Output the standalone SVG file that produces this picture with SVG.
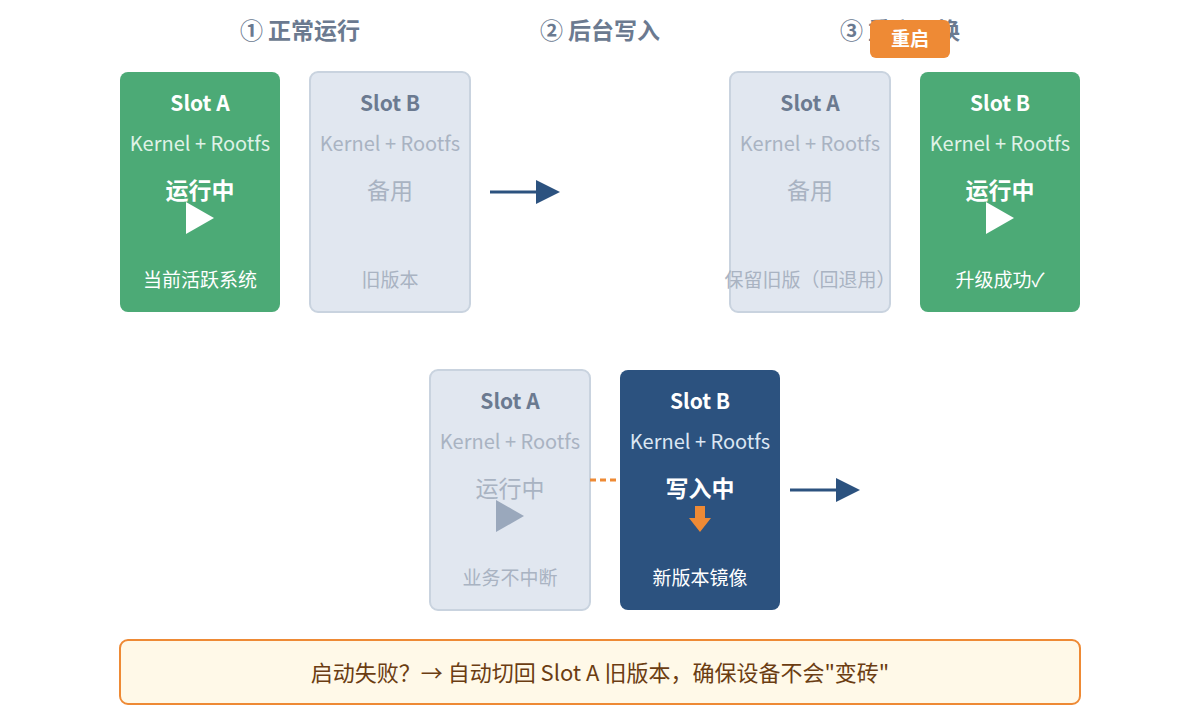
<svg xmlns="http://www.w3.org/2000/svg" width="1200" height="720" viewBox="0 0 1200 720">
<style>
text{font-family:"Noto Sans CJK SC","Noto Sans",sans-serif;text-anchor:middle}
.title{font-size:23px;font-weight:bold;fill:#6b7a90}
.g rect.b{fill:#4caa76}
.s rect.b{fill:#e1e7f0;stroke:#c9d3df;stroke-width:2}
.d rect.b{fill:#2c527f}
.h{font-size:21px;font-weight:bold}
.k{font-size:20px}
.m{font-size:23px}
.f{font-size:19px}
.g .h,.g .m,.g .f,.d .h,.d .m,.d .f{fill:#fff}
.g .k{fill:#dff2e6}
.d .k{fill:#dbe6f3}
.s .h{fill:#6b7a90}
.s .k,.s .m,.s .f{fill:#a9b3c2}
</style>
<text class="title" x="300" y="39">① 正常运行</text>
<text class="title" x="600" y="39">② 后台写入</text>
<text class="title" x="900" y="39">③ 重启切换</text>
<g id="n1" class="g"><rect class="b" x="120" y="72" width="160" height="240" rx="8"/><text class="h" x="200" y="111">Slot A</text><text class="k" x="200" y="151">Kernel + Rootfs</text><text class="m" x="200" y="199" font-weight="bold">运行中</text><polygon points="186,202 186,234 214,218" fill="#fff"/><text class="f" x="200" y="287">当前活跃系统</text></g>
<g id="n2" class="s"><rect class="b" x="310" y="72" width="160" height="240" rx="8"/><text class="h" x="390" y="111">Slot B</text><text class="k" x="390" y="151">Kernel + Rootfs</text><text class="m" x="390" y="199">备用</text><text class="f" x="390" y="287">旧版本</text></g>
<g id="n3" class="s"><rect class="b" x="730" y="72" width="160" height="240" rx="8"/><text class="h" x="810" y="111">Slot A</text><text class="k" x="810" y="151">Kernel + Rootfs</text><text class="m" x="810" y="199">备用</text><text class="f" x="810" y="287">保留旧版（回退用）</text></g>
<g id="n4" class="g"><rect class="b" x="920" y="72" width="160" height="240" rx="8"/><text class="h" x="1000" y="111">Slot B</text><text class="k" x="1000" y="151">Kernel + Rootfs</text><text class="m" x="1000" y="199" font-weight="bold">运行中</text><polygon points="986,202 986,234 1014,218" fill="#fff"/><text class="f" x="1000" y="287">升级成功✓</text></g>
<g id="n5" class="s"><rect class="b" x="430" y="370" width="160" height="240" rx="8"/><text class="h" x="510" y="409">Slot A</text><text class="k" x="510" y="449">Kernel + Rootfs</text><text class="m" x="510" y="497">运行中</text><polygon points="496,500 496,532 524,516" fill="#9aa8bc"/><text class="f" x="510" y="585">业务不中断</text></g>
<g id="n6" class="d"><rect class="b" x="620" y="370" width="160" height="240" rx="8"/><text class="h" x="700" y="409">Slot B</text><text class="k" x="700" y="449">Kernel + Rootfs</text><text class="m" x="700" y="497" font-weight="bold">写入中</text><polygon points="695,506 705,506 705,518 711,518 700,532 689,518 695,518" fill="#ee8a35"/><text class="f" x="700" y="585">新版本镜像</text></g>
<g id="badge"><rect x="870" y="20" width="80" height="38" rx="6" fill="#ee8a35"/><text x="910" y="46" font-size="19" font-weight="bold" fill="#fff">重启</text></g>
<g id="connectors">
<line x1="490" y1="192" x2="538" y2="192" stroke="#2c527f" stroke-width="3"/><polygon points="536,180 560,192 536,204" fill="#2c527f"/>
<line x1="790" y1="490" x2="838" y2="490" stroke="#2c527f" stroke-width="3"/><polygon points="836,478 860,490 836,502" fill="#2c527f"/>
<line x1="590" y1="480" x2="620" y2="480" stroke="#ee8a35" stroke-width="3" stroke-dasharray="6,4"/>
</g>
<g id="note"><rect x="120" y="640" width="960" height="64" rx="8" fill="#fff9e8" stroke="#ee8a35" stroke-width="2"/><text x="600" y="681" font-size="22" fill="#6b3d12">启动失败？→ 自动切回 Slot A 旧版本，确保设备不会"变砖"</text></g>
</svg>
